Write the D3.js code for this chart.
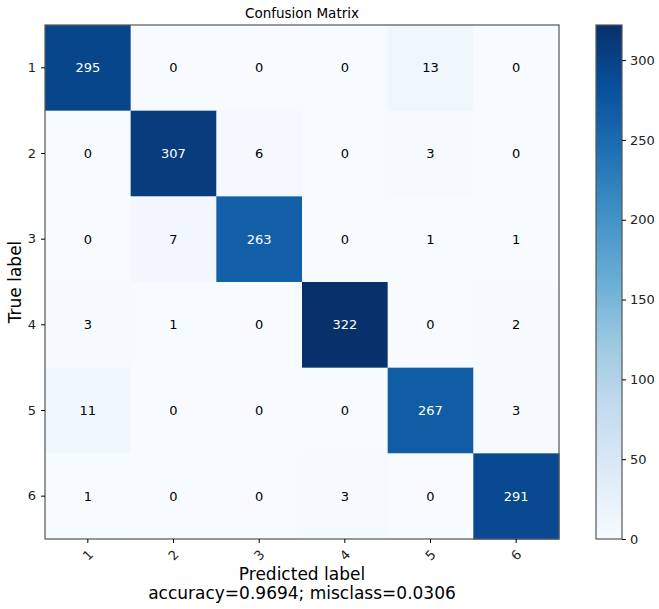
<!DOCTYPE html>
<html>
<head>
<meta charset="utf-8">
<script src="https://cdn.jsdelivr.net/npm/d3@7"></script>
<style>
  body { margin: 0; background: #fff; }
  text { font-family: "DejaVu Sans", sans-serif; }
</style>
</head>
<body>
<svg id="chart" width="659" height="609"></svg>
<script>
const classes = ['1', '2', '3', '4', '5', '6'];
const matrix = [
    [295, 0, 0, 0, 13, 0],
    [0, 307, 6, 0, 3, 0],
    [0, 7, 263, 0, 1, 1],
    [3, 1, 0, 322, 0, 2],
    [11, 0, 0, 0, 267, 3],
    [1, 0, 0, 3, 0, 291]
];
const colorbarTicks = [0, 50, 100, 150, 200, 250, 300];
const blues = ['#f7fbff', '#deebf7', '#c6dbef', '#9ecae1', '#6baed6', '#4292c6', '#2171b5', '#08519c', '#08306b'];

const svg = d3.select('#chart');
const marginLeft = 45, marginTop = 25, size = 514;

const maxVal = d3.max(matrix.flat());
const color = d3.scaleLinear()
    .domain(blues.map((d, i) => i * maxVal / (blues.length - 1)))
    .range(blues);

const x = d3.scaleBand().domain(classes).range([marginLeft, marginLeft + size]);
const y = d3.scaleBand().domain(classes).range([marginTop, marginTop + size]);

let cells = [];
matrix.forEach(function (row, i) {
    row.forEach(function (v, j) {
        cells.push({row: classes[i], col: classes[j], value: v});
    });
});

svg.append('g')
    .selectAll('rect')
    .data(cells)
    .enter()
    .append('rect')
    .attr('x', d => x(d.col))
    .attr('y', d => y(d.row))
    .attr('width', x.bandwidth() + 0.5)
    .attr('height', y.bandwidth() + 0.5)
    .attr('fill', d => color(d.value));

svg.append('g')
    .selectAll('text')
    .data(cells)
    .enter()
    .append('text')
    .attr('x', d => x(d.col) + x.bandwidth() / 2)
    .attr('y', d => y(d.row) + y.bandwidth() / 2)
    .attr('dy', '0.35em')
    .attr('text-anchor', 'middle')
    .style('font-size', '13px')
    .style('fill', d => d.value > maxVal / 2 ? '#fff' : '#000')
    .text(d => d.value);

// frame
svg.append('rect')
    .attr('x', marginLeft).attr('y', marginTop)
    .attr('width', size).attr('height', size)
    .attr('fill', 'none')
    .attr('stroke', '#555')
    .attr('stroke-width', 1.2);

// axes
const yAxis = svg.append('g')
    .attr('transform', 'translate(' + marginLeft + ',0)')
    .call(d3.axisLeft(y).tickSize(4).tickPadding(5));
yAxis.select('.domain').remove();
yAxis.selectAll('text').style('font-size', '13px').style('fill', '#222');

const xAxis = svg.append('g')
    .attr('transform', 'translate(0,' + (marginTop + size) + ')')
    .call(d3.axisBottom(x).tickSize(4).tickPadding(3));
xAxis.select('.domain').remove();
xAxis.selectAll('text')
    .style('font-size', '13px')
    .style('fill', '#222')
    .attr('text-anchor', 'middle')
    .attr('y', 0)
    .attr('dy', '0.35em')
    .attr('transform', 'translate(0,16) rotate(-45)');

// titles
svg.append('text')
    .attr('x', marginLeft + size / 2).attr('y', 18)
    .attr('text-anchor', 'middle')
    .style('font-size', '13.5px')
    .text('Confusion Matrix');

svg.append('text')
    .attr('transform', 'translate(21,' + (marginTop + size / 2) + ') rotate(-90)')
    .attr('text-anchor', 'middle')
    .style('font-size', '17px')
    .text('True label');

svg.append('text')
    .attr('x', marginLeft + size / 2).attr('y', 580)
    .attr('text-anchor', 'middle')
    .style('font-size', '17px')
    .text('Predicted label');

svg.append('text')
    .attr('x', marginLeft + size / 2).attr('y', 599)
    .attr('text-anchor', 'middle')
    .style('font-size', '17px')
    .text('accuracy=0.9694; misclass=0.0306');

// colorbar
const cbX = 596, cbW = 26;
const cbScale = d3.scaleLinear().domain([0, maxVal]).range([marginTop + size, marginTop]);
const defs = svg.append('defs');
const grad = defs.append('linearGradient')
    .attr('id', 'cbgrad')
    .attr('x1', 0).attr('y1', 1).attr('x2', 0).attr('y2', 0);
grad.selectAll('stop')
    .data(blues)
    .enter()
    .append('stop')
    .attr('offset', (d, i) => i / (blues.length - 1))
    .attr('stop-color', d => d);

svg.append('rect')
    .attr('x', cbX).attr('y', marginTop)
    .attr('width', cbW).attr('height', size)
    .attr('fill', 'url(#cbgrad)')
    .attr('stroke', '#555')
    .attr('stroke-width', 1.2);

const cbAxis = svg.append('g')
    .attr('transform', 'translate(' + (cbX + cbW) + ',0)')
    .call(d3.axisRight(cbScale).tickValues(colorbarTicks).tickSize(4).tickPadding(4));
cbAxis.select('.domain').remove();
cbAxis.selectAll('text').style('font-size', '13px').style('fill', '#222');
</script>
</body>
</html>
